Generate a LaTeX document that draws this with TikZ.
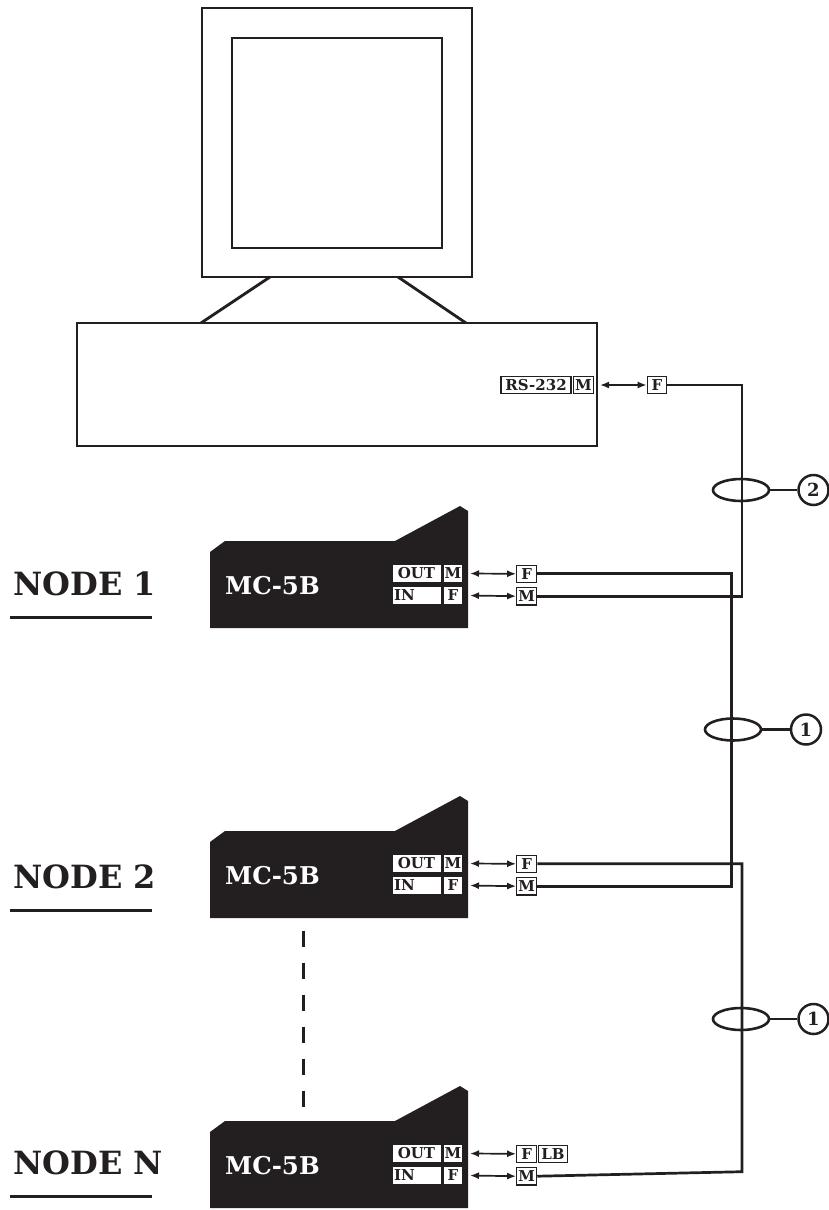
\documentclass[tikz,border=0pt]{standalone}
\usepackage{fontspec}
\setmainfont{DejaVu Serif}
\usetikzlibrary{arrows.meta,shapes.geometric}
\definecolor{ink}{HTML}{231F20}
\tikzset{
  x=1pt,y=-1pt,
  wire/.style={draw=ink,line width=2.7pt},
  frame/.style={draw=ink,line width=2.8pt,fill=white},
  duplex/.style={draw=ink,line width=1.7pt,{Latex[length=9pt,width=7pt]}-{Latex[length=9pt,width=7pt]}},
  tag/.style={draw=ink,line width=1.1pt,fill=white,inner sep=0pt,text=ink,font=\fontsize{15}{15}\selectfont\bfseries,minimum height=17.5pt,anchor=center},
  porttag/.style={fill=white,inner sep=0pt,text=ink,font=\fontsize{15}{15}\selectfont\bfseries,minimum height=17pt,anchor=center},
  loopring/.style={ellipse,draw=ink,line width=2.6pt,minimum width=56pt,minimum height=22pt,inner sep=0pt},
  callout/.style={circle,draw=ink,line width=2.5pt,fill=white,minimum size=30pt,inner sep=0pt,text=ink,font=\fontsize{18}{18}\selectfont\bfseries},
  nodelabel/.style={text=ink,font=\fontsize{32}{32}\selectfont\bfseries,anchor=base west,inner sep=0pt},
  modellabel/.style={text=white,font=\fontsize{24.5}{24.5}\selectfont\bfseries,anchor=base west,inner sep=0pt},
  device/.style={fill=ink,draw=none},
  rulebar/.style={draw=ink,line width=2.6pt},
  gapline/.style={draw=ink,line width=3pt,dash pattern=on 16pt off 16pt}
}
\newcommand{\mcdevice}[2]{%
  \path[device] (210,552+#1) -- (225,541+#1) -- (395,541+#1) -- (460,506+#1) -- (468,511+#1) -- (468,628+#1) -- (210,628+#1) -- cycle;
  \node[modellabel] (model#2) at (225,594.3+#1) {MC-5B};
  \node[porttag,minimum width=48pt] (out#2) at (416.5,573.5+#1) {OUT};
  \node[porttag,minimum width=48pt,text width=45pt,align=left] (in#2) at (416.5,595.5+#1) {IN};
  \node[porttag,minimum width=18pt] (outg#2) at (453,573.5+#1) {M};
  \node[porttag,minimum width=18pt] (ing#2) at (453,595.5+#1) {F};
  \coordinate (outp#2) at (470,573.5+#1);
  \coordinate (inp#2) at (470,595.5+#1);
}
\begin{document}
\begin{tikzpicture}
\useasboundingbox (0,0) rectangle (829,1210);
% computer
\draw[frame] (202,8) rectangle (472,277);
\draw[frame] (232,38) rectangle (442,248);
\coordinate (neckl) at (270,277);
\coordinate (neckr) at (398,277);
\coordinate (footl) at (201,323);
\coordinate (footr) at (466,323);
\draw[frame] (neckl) -- (footl);
\draw[frame] (neckr) -- (footr);
\draw[frame] (77,323) rectangle (597,446);
\node[tag,minimum width=70pt] (rs) at (536,385) {RS-232};
\node[tag,minimum width=20pt] (rsm) at (583.5,385) {M};
\node[tag,minimum width=19.5pt] (rsf) at (657,385) {F};
\coordinate (rsp) at (600,385);
\draw[duplex] (rsp) -- (rsf.west);
% devices
\mcdevice{0}{a}
\mcdevice{290}{b}
\mcdevice{580}{c}
\foreach \n/\o in {a/0,b/290,c/580}{
  \node[tag,minimum width=20pt] (f\n) at (526.7,573.8+\o) {F};
  \node[tag,minimum width=20pt] (m\n) at (526.7,596.2+\o) {M};
  \draw[duplex] (outp\n) -- (f\n.west);
  \draw[duplex] (inp\n) -- (m\n.west);
}
\node[tag,minimum width=29pt] (lb) at (553,1153.8) {LB};
% wiring
\draw[wire] (rsf.east) -| (742,596.2) -- (ma.east);
\draw[wire] (fa.east) -| (731.7,886.2) -- (mb.east);
\draw[wire] (fb.east) -| (742,1171.7) -- (mc.east);
% callouts
\node[loopring] (r1) at (741,490) {};
\node[callout] (c1) at (813.5,490) {2};
\draw[wire] (r1) -- (c1);
\node[loopring] (r2) at (733,729.5) {};
\node[callout] (c2) at (806,729.5) {1};
\draw[wire] (r2) -- (c2);
\node[loopring] (r3) at (741,1019) {};
\node[callout] (c3) at (813.5,1019) {1};
\draw[wire] (r3) -- (c3);
% labels
\node[nodelabel] (n1) at (13,595) {NODE 1};
\node[nodelabel] (n2) at (13,888) {NODE 2};
\node[nodelabel] (n3) at (13,1174) {NODE N};
\coordinate (ua) at (10,617.7); \coordinate (ub) at (152,617.7);
\coordinate (va) at (10,910.3); \coordinate (vb) at (152,910.3);
\coordinate (wa) at (10,1196.7); \coordinate (wb) at (152,1196.7);
\draw[rulebar] (ua) -- (ub);
\draw[rulebar] (va) -- (vb);
\draw[rulebar] (wa) -- (wb);
% dashed link
\coordinate (gaptop) at (303,930.7);
\coordinate (gapend) at (303,1106.7);
\draw[gapline] (gaptop) -- (gapend);
\end{tikzpicture}
\end{document}
